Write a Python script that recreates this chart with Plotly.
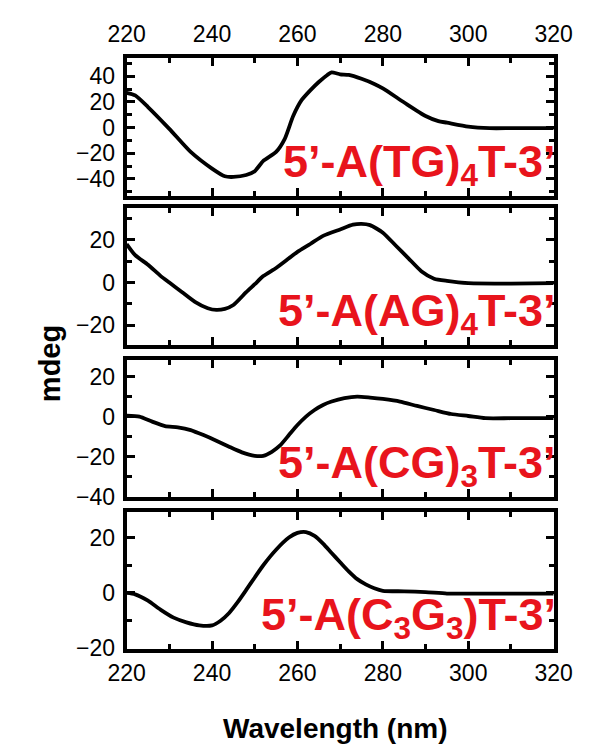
import plotly.graph_objects as go

# ---------------- data ----------------
wl_tg = [220, 222, 225, 230, 235, 240, 243, 245, 248, 250, 252, 255, 257, 259, 261, 263,
         265, 267, 268, 270, 272, 275, 278, 280, 285, 290, 293, 295, 300, 305, 310, 315, 320]
cd_tg = [27, 25, 16, -1, -19, -32, -38, -38.5, -37, -34, -26, -19, -9, 9, 21.5, 29,
         35.5, 41, 43, 41.5, 41, 38, 34, 30.5, 19.5, 9, 5, 3.8, 0.7, -0.5, -0.5, -0.5, -0.5]

wl_ag = [220, 222, 225, 228, 230, 233, 236, 239, 241, 243, 245, 248, 250, 252, 255, 258,
         260, 263, 266, 270, 273, 275, 277, 280, 283, 286, 289, 292, 295, 300, 310, 320]
cd_ag = [18, 12.8, 8.3, 3, 0, -4.5, -9, -12, -12.8, -12.3, -10.5, -4.5, -0.8, 3, 6.8, 11.3,
         14.3, 18, 21.8, 24.8, 27, 27.4, 26.8, 23.3, 17.3, 11.3, 5.3, 1.8, 0.75, -0.3, -0.5, -0.3]

wl_cg = [220, 223, 226, 229, 232, 235, 238, 241, 244, 247, 250, 252, 254, 256, 258, 260,
         262, 264, 266, 268, 271, 274, 277, 280, 284, 288, 292, 296, 300, 304, 310, 320]
cd_cg = [0.5, 0, -2.5, -4.7, -5.3, -6.7, -9.2, -12, -15, -17.8, -19.5, -19.5, -17.5, -14.2, -9.2, -4.2,
         0, 3.3, 5.8, 7.5, 9.2, 10, 9.5, 8.8, 7.5, 5.3, 3.3, 1.3, 0.3, -0.8, -0.8, -0.8]

wl_c3g3 = [220, 222, 225, 228, 231, 234, 237, 240, 242, 244, 246, 248, 250, 252, 255, 258,
           260, 262, 264, 266, 268, 270, 272, 274, 276, 278, 280, 285, 290, 295, 300, 310, 320]
cd_c3g3 = [0, -0.5, -2.8, -6.1, -8.9, -10.6, -11.7, -11.7, -10, -7.2, -3.3, 1.1, 5.6, 10, 15.6, 20,
           21.7, 22, 20.6, 17.8, 14.4, 11.1, 7.8, 5, 3.1, 1.7, 0.8, 0.6, 0.3, -0.2, -0.2, -0.2, -0.2]

labels = ["5\u2019-A(TG)<sub>4</sub>T-3\u2019",
          "5\u2019-A(AG)<sub>4</sub>T-3\u2019",
          "5\u2019-A(CG)<sub>3</sub>T-3\u2019",
          "5\u2019-A(C<sub>3</sub>G<sub>3</sub>)T-3\u2019"]

x_ticks = [220, 240, 260, 280, 300, 320]
y_ranges = [[-53.5, 54.5], [-29.2, 34.6], [-40.2, 28.3], [-20.1, 29.2]]
y_ticks = [[-40, -20, 0, 20, 40], [-20, 0, 20], [-40, -20, 0, 20], [-20, 0, 20]]

series = [(wl_tg, cd_tg), (wl_ag, cd_ag), (wl_cg, cd_cg), (wl_c3g3, cd_c3g3)]

# ---------------- layout geometry ----------------
W, H = 589, 748
x_dom = [106.5 / W, 563 / W]
panels_px = [(50.5, 191.5), (204, 343), (358, 498), (513, 652)]
y_doms = [[1 - b / H, 1 - t / H] for t, b in panels_px]

tick_font = dict(family="Liberation Sans, Arial, sans-serif", size=23, color="black")
red = "#e8141c"

fig = go.Figure()
for i, (wx, wy) in enumerate(series):
    n = i + 1
    fig.add_trace(go.Scatter(x=wx, y=wy, mode="lines",
                             line=dict(color="black", width=3.8, shape="spline", smoothing=0.6),
                             xaxis=f"x{n}" if n > 1 else "x", yaxis=f"y{n}" if n > 1 else "y",
                             hoverinfo="skip"))

axis_common = dict(showline=True, linecolor="black", linewidth=4, mirror="allticks",
                   ticks="inside", ticklen=8, tickwidth=3, tickcolor="black",
                   showgrid=False, zeroline=False, tickfont=tick_font)

layout = dict(width=W, height=H, margin=dict(l=0, r=0, t=0, b=0),
              plot_bgcolor="white", paper_bgcolor="white", showlegend=False)

for i in range(4):
    n = i + 1
    xk = "xaxis" if n == 1 else f"xaxis{n}"
    yk = "yaxis" if n == 1 else f"yaxis{n}"
    ya = "y" if n == 1 else f"y{n}"
    xa = "x" if n == 1 else f"x{n}"
    xax = dict(axis_common, domain=x_dom, range=[220, 320], tickvals=x_ticks,
               anchor=ya, minor=dict(ticks="inside", dtick=10, ticklen=5, tickwidth=3,
                                     tickcolor="black"))
    if n == 1:
        xax.update(side="top", showticklabels=True, ticklabelstandoff=2)
    elif n == 4:
        xax.update(side="bottom", showticklabels=True, ticklabelstandoff=1)
    else:
        xax.update(showticklabels=False)
    layout[xk] = xax
    layout[yk] = dict(axis_common, domain=y_doms[i], range=y_ranges[i], tickvals=y_ticks[i],
                      anchor=xa, ticklabelstandoff=3,
                      minor=dict(ticks="inside", dtick=10, ticklen=5, tickwidth=3,
                                 tickcolor="black"))

fig.update_layout(**layout)

annotations = []
for i in range(4):
    n = i + 1
    xa = "x" if n == 1 else f"x{n}"
    ya = "y" if n == 1 else f"y{n}"
    annotations.append(dict(text=f"<b>{labels[i]}</b>", xref=f"{xa} domain", yref=f"{ya} domain",
                            x=1, y=0, xanchor="right", yanchor="bottom", xshift=4, yshift=1,
                            showarrow=False,
                            font=dict(family="Liberation Sans, Arial, sans-serif", size=45, color=red)))

annotations.append(dict(text="<b>mdeg</b>", xref="paper", yref="paper", x=24 / W, y=1 - 362 / H,
                        textangle=-90, showarrow=False, xanchor="center", yanchor="middle",
                        font=dict(family="Liberation Sans, Arial, sans-serif", size=29, color="black")))
annotations.append(dict(text="<b>Wavelength (nm)</b>", xref="paper", yref="paper",
                        x=330 / W, y=1 - 733 / H, showarrow=False, xanchor="center",
                        yanchor="middle",
                        font=dict(family="Liberation Sans, Arial, sans-serif", size=28, color="black")))
fig.update_layout(annotations=annotations)

fig.write_html("out.html")
